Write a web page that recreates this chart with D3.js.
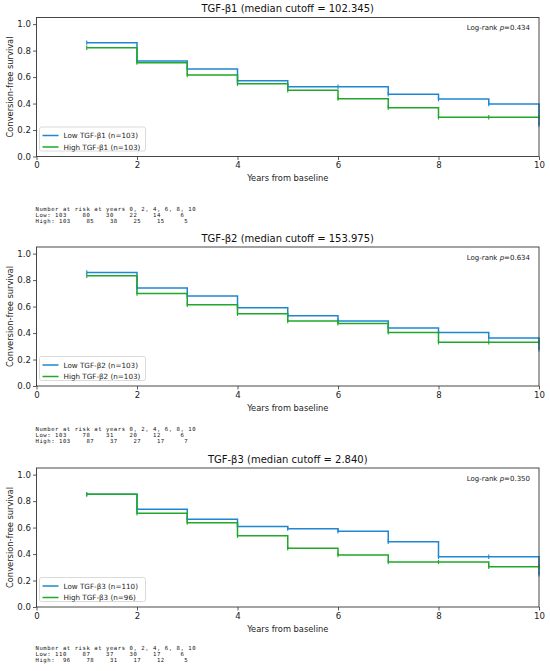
<!DOCTYPE html>
<html><head><meta charset="utf-8">
<script src="https://cdn.jsdelivr.net/npm/d3@7"></script>
<style>body{margin:0;background:#fff}svg{display:block}</style>
</head><body>
<svg id="c" width="550" height="671"></svg>
<script>
// ---------- data ----------
const times = [1,2,3,4,5,6,7,8,9,10];
const xTicks = [0,2,4,6,8,10];
const yTicks = [0,0.2,0.4,0.6,0.8,1.0];
const riskYears = [0,2,4,6,8,10];

const titles = ["TGF-β1 (median cutoff = 102.345)","TGF-β2 (median cutoff = 153.975)","TGF-β3 (median cutoff = 2.840)"];
const pValues = ["0.434","0.634","0.350"];
const lowLabels = ["Low TGF-β1 (n=103)","Low TGF-β2 (n=103)","Low TGF-β3 (n=110)"];
const highLabels = ["High TGF-β1 (n=103)","High TGF-β2 (n=103)","High TGF-β3 (n=96)"];

const low1  = [0.860,0.721,0.661,0.573,0.527,0.527,0.470,0.434,0.397,0.240];
const high1 = [0.822,0.709,0.616,0.550,0.500,0.437,0.369,0.296,0.296,0.296];
const low2  = [0.858,0.740,0.679,0.591,0.531,0.491,0.438,0.405,0.362,0.277];
const high2 = [0.833,0.699,0.613,0.546,0.491,0.473,0.405,0.330,0.330,0.330];
const low3  = [0.851,0.738,0.662,0.609,0.592,0.572,0.493,0.380,0.380,0.247];
const high3 = [0.851,0.708,0.637,0.539,0.443,0.393,0.340,0.340,0.304,0.304];

const riskLow1  = [103,80,30,22,14,6];
const riskHigh1 = [103,85,38,25,15,5];
const riskLow2  = [103,78,31,20,12,6];
const riskHigh2 = [103,87,37,27,17,7];
const riskLow3  = [110,87,37,30,17,6];
const riskHigh3 = [96,78,31,17,12,5];

const lows = [low1,low2,low3], highs=[high1,high2,high3];
const riskLows=[riskLow1,riskLow2,riskLow3], riskHighs=[riskHigh1,riskHigh2,riskHigh3];

// ---------- layout ----------
const blue = "#1f86d2", green = "#1fa82a";
const left = 36.5, right = 539;
const bottoms = [156.5, 386, 607];
const riskOffsets = [52.5, 43, 40.5];
const H = 139;
const font = "DejaVu Sans, sans-serif";
const mono = "DejaVu Sans Mono, monospace";

const svg = d3.select("#c");
const x = d3.scaleLinear().domain([0,10]).range([left,right]);

for (let p=0;p<3;p++){
  const b = bottoms[p], top = b-H;
  const y = d3.scaleLinear().domain([0,1.05]).range([b,top]);
  const g = svg.append("g");

  // title
  g.append("text").attr("x",(left+right)/2).attr("y",top-5.5).attr("text-anchor","middle")
    .attr("font-family",font).attr("font-size",10).attr("fill","#111").text(titles[p]);

  // axes
  const xa = g.append("g").attr("transform",`translate(0,${b})`)
    .call(d3.axisBottom(x).tickValues(xTicks).tickFormat(d3.format("d")).tickSize(3.5).tickPadding(2));
  const ya = g.append("g").attr("transform",`translate(${left},0)`)
    .call(d3.axisLeft(y).tickValues(yTicks).tickFormat(d3.format(".1f")).tickSize(3.5).tickPadding(2));
  [xa,ya].forEach(a=>{
    a.select(".domain").remove();
    a.selectAll("line").attr("stroke","#333").attr("stroke-width",0.8);
    a.selectAll("text").attr("font-family",font).attr("font-size",8.6).attr("fill","#222");
  });

  // curves
  const line = d3.line().x(d=>x(d[0])).y(d=>y(d[1])).curve(d3.curveStepAfter);
  [[lows[p],blue],[highs[p],green]].forEach(([vals,col])=>{
    const pts = times.map((t,i)=>[t,vals[i]]);
    g.append("path").attr("d",line(pts)).attr("fill","none").attr("stroke",col).attr("stroke-width",1.5);
    g.selectAll(null).data(pts).enter().append("line")
      .attr("x1",d=>x(d[0])).attr("x2",d=>x(d[0]))
      .attr("y1",d=>y(d[1])-2.2).attr("y2",d=>y(d[1])+2.2)
      .attr("stroke",col).attr("stroke-width",1.1);
  });

  // frame
  g.append("rect").attr("x",left).attr("y",top).attr("width",right-left).attr("height",H)
    .attr("fill","none").attr("stroke","#333").attr("stroke-width",0.9);

  // axis labels
  g.append("text").attr("transform",`translate(12.5,${(top+b)/2}) rotate(-90)`).attr("text-anchor","middle")
    .attr("font-family",font).attr("font-size",8.3).attr("fill","#222").text("Conversion-free survival");
  g.append("text").attr("x",(left+right)/2).attr("y",b+24.5).attr("text-anchor","middle")
    .attr("font-family",font).attr("font-size",8.3).attr("fill","#222").text("Years from baseline");

  // log-rank
  const lr = g.append("text").attr("x",right-9).attr("y",top+12.5).attr("text-anchor","end")
    .attr("font-family",font).attr("font-size",7).attr("fill","#222");
  lr.append("tspan").text("Log-rank ");
  lr.append("tspan").attr("font-style","italic").text("p");
  lr.append("tspan").text("="+pValues[p]);

  // legend
  const lg = g.append("g").attr("transform",`translate(${left+3},${b-29.5})`);
  lg.append("rect").attr("width",106).attr("height",24).attr("rx",2)
    .attr("fill","rgba(255,255,255,0.85)").attr("stroke","#d0d0d0").attr("stroke-width",0.8);
  [[lowLabels[p],blue,8.5],[highLabels[p],green,20]].forEach(([lab,col,yy])=>{
    lg.append("line").attr("x1",3).attr("x2",19).attr("y1",yy).attr("y2",yy).attr("stroke",col).attr("stroke-width",1.5);
    lg.append("text").attr("x",24).attr("y",yy+2.6).attr("font-family",font).attr("font-size",7.2).attr("fill","#222").text(lab);
  });

  // risk table
  const ry = b + riskOffsets[p];
  const header = "Number at risk at years " + riskYears.join(", ");
  const fmt = (lab, arr) => lab + String(arr[0]).padStart(3," ") + arr.slice(1).map(v=>String(v).padStart(6," ")).join("");
  const rows = [header, fmt("Low: ",riskLows[p]), fmt("High: ",riskHighs[p])];
  rows.forEach((r,i)=>{
    g.append("text").attr("x",left-1).attr("y",ry+2+i*6.1).attr("xml:space","preserve").style("white-space","pre")
      .attr("font-family",mono).attr("font-size",5.6).attr("letter-spacing",0.55).attr("fill","#111").text(r);
  });
}
</script>
</body></html>
